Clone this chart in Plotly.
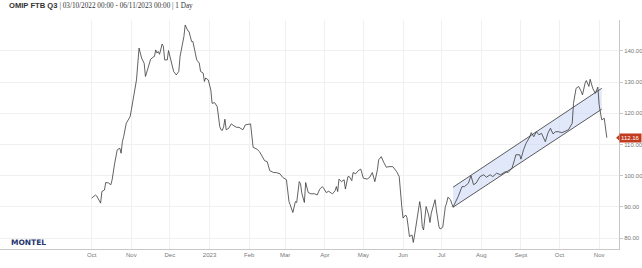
import pandas as pd
import plotly.graph_objects as go

start_date = "2022-10-01"
day_offsets = [0, 3, 4, 7, 8, 10, 11, 13, 15, 16, 18, 20, 22, 23, 24, 25, 27, 29, 30, 31,
               33, 35, 37, 39, 41, 42, 44, 46, 48, 49, 50, 51, 52, 53, 55, 56, 57, 59, 60, 62,
               64, 66, 68, 69, 72, 73, 75, 76, 78, 79, 81, 82, 84, 85, 87, 88, 89, 91, 93, 94,
               96, 98, 100, 101, 102, 103, 104, 105, 107, 109, 111, 113, 115, 118, 120, 122, 124, 126, 129, 131,
               133, 135, 137, 138, 139, 142, 144, 147, 149, 152, 153, 154, 155, 157, 159, 160, 162, 163, 164, 166,
               167, 169, 171, 174, 176, 178, 180, 181, 183, 185, 187, 188, 190, 191, 192, 193, 195, 197, 198, 200,
               201, 203, 204, 206, 208, 210, 212, 215, 217, 219, 221, 223, 224, 226,
               228, 229, 230, 232, 235, 238, 240, 242, 243, 245, 246, 247, 248, 250, 251, 252, 254, 256, 257, 258,
               259, 260, 261, 263, 264, 265, 267, 268, 269, 271, 272, 274, 276, 277, 278, 280, 282,
               286, 289, 291, 294, 296, 298, 300, 303, 306, 308, 311, 313, 316, 319, 323, 325, 328, 330, 331, 334,
               335, 337, 339, 342, 343, 345, 347, 349, 351, 354, 356, 358, 360, 362, 364, 367, 369, 372, 375, 376,
               378, 380, 382, 383, 385, 386, 388, 389, 391, 393, 395, 396, 398, 400, 402]
prices = [92.8, 93.8, 93.5, 91.2, 94.9, 95.4, 97.8, 97.7, 97.1, 98.7, 104, 108.3, 108.8, 107.2, 110.9, 112.5, 116.8, 118.4, 118.9, 121.1,
          126.4, 130.7, 140.9, 137.7, 136, 131.8, 134.5, 137.3, 138, 138.2, 140.3, 139.3, 139.8, 138.9, 142.2, 141.4, 137.1, 137.1, 140.1, 136.6,
          133.4, 132.3, 133.4, 138.2, 144.6, 148.3, 146.5, 146.2, 143, 143, 139.3, 137.1, 136.1, 133.4, 132.9, 130.2, 131.3, 130.7, 127.5, 123.2,
          123.4, 122.1, 115.7, 114.7, 114.5, 115.7, 118.1, 114.7, 115.2, 116.6, 116, 115.5, 115.5, 114.7, 116.3, 116.5, 116.6, 109.1, 108.5, 107.7,
          106.1, 104.8, 104.5, 102.9, 101.6, 101, 101, 100.6, 99.5, 98.7, 95.4, 91.7, 90.6, 88.2, 91.7, 91.4, 98.1, 97.4, 94.4, 91.4,
          97.8, 94.6, 94.2, 94.2, 93.8, 95.7, 96.5, 96, 94.6, 95, 94.4, 94.2, 95.2, 96.5, 94.9, 98.9, 98.1, 98.7, 95.7, 99.7,
          99.7, 98.4, 101, 100.6, 101.6, 102.1, 99.2, 98.9, 99.5, 101, 98.1, 101.9, 105.1, 106.1,
          104.2, 103.5, 102.7, 102.9, 102.9, 101.3, 99.7, 90.1, 86.4, 87.4, 86.7, 83.7, 80.5, 81, 78.6, 81, 85.8, 91.7, 89, 83.7,
          82.6, 87.4, 90.1, 87.4, 85, 88, 91.4, 92.3, 89, 83.7, 82.9, 83.5, 90.1, 91.2, 93.1, 92.3, 89.9,
          93.3, 96.5, 96.5, 97.6, 100, 97.1, 97.6, 99.7, 100.3, 99.5, 100.3, 99.7, 100.8, 100.3, 101.3, 101, 102.4, 105.1, 106.7, 106.7,
          105.3, 108.3, 110.4, 112.5, 113.8, 112.5, 114.1, 113.1, 113.6, 110.9, 113.6, 115.2, 113.4, 114.1, 114.1, 113.8, 114.1, 114.7, 116.8, 123.2,
          128, 128.6, 127, 125.9, 129.6, 130.5, 128.6, 130.9, 128, 126.4, 128.4, 122.7, 117.9, 118.4, 112.16]

# Trend channel (drawn annotation)
channel_days = [282, 398]
channel_lower = [89.9, 121.3]
channel_upper = [96.3, 128.0]

month_ticks = ["2022-10-01", "2022-11-01", "2022-12-01", "2023-01-01", "2023-02-01", "2023-03-01",
               "2023-04-01", "2023-05-01", "2023-06-01", "2023-07-01", "2023-08-01", "2023-09-01",
               "2023-10-01", "2023-11-01"]
month_labels = ["Oct", "Nov", "Dec", "2023", "Feb", "Mar", "Apr", "May", "Jun", "Jul", "Aug", "Sept", "Oct", "Nov"]
y_ticks = [80, 90, 100, 110, 120, 130, 140]
last_label = "112.16"

base = pd.Timestamp(start_date)
dates = base + pd.to_timedelta(day_offsets, unit="D")
ch_dates = base + pd.to_timedelta(channel_days, unit="D")

fig = go.Figure()
fig.add_trace(go.Scatter(x=ch_dates, y=channel_lower, mode="lines",
                         line=dict(color="#333333", width=0.8), hoverinfo="skip"))
fig.add_trace(go.Scatter(x=ch_dates, y=channel_upper, mode="lines", fill="tonexty",
                         fillcolor="rgba(200,214,245,0.55)",
                         line=dict(color="#333333", width=0.8), hoverinfo="skip"))
fig.add_trace(go.Scatter(x=dates, y=prices, mode="lines",
                         line=dict(color="#3a3a3a", width=0.8)))

fig.update_layout(
    width=642, height=268,
    margin=dict(l=0, r=23, t=20, b=19),
    paper_bgcolor="white", plot_bgcolor="white",
    showlegend=False,
    font=dict(family="Liberation Sans, Arial, sans-serif", size=6, color="#777777"),
)
fig.update_xaxes(
    range=["2022-07-21 12:00", "2023-11-16 12:00"],
    tickvals=month_ticks, ticktext=month_labels,
    showgrid=True, gridcolor="#f0f0f0", gridwidth=1,
    showline=True, linecolor="#c8c8c8", linewidth=1,
    ticks="", zeroline=False,
    tickfont=dict(size=6, color="#777777"),
)
fig.update_yaxes(
    side="right", range=[76.5, 149.9],
    tickvals=y_ticks, tickformat=".2f",
    showgrid=True, gridcolor="#f0f0f0", gridwidth=1,
    showline=True, linecolor="#c8c8c8", linewidth=1,
    ticks="outside", ticklen=3, tickcolor="#c8c8c8",
    zeroline=False,
    tickfont=dict(size=6, color="#777777"),
)

fig.add_annotation(
    xref="paper", yref="paper", x=0.012, y=1.062, xanchor="left", yanchor="middle",
    text="<b>OMIP FTB Q3</b> <span style='font-family:Liberation Serif;font-size:7.2px'>| 03/10/2022 00:00 - 06/11/2023 00:00 | 1 Day</span>",
    showarrow=False, font=dict(family="Liberation Sans, Arial, sans-serif", size=7.6, color="#333333"),
)
fig.add_annotation(
    xref="paper", yref="paper", x=0.015, y=0.028, xanchor="left", yanchor="middle",
    text="<b>MONTEL</b>", showarrow=False,
    font=dict(family="DejaVu Sans", size=7.5, color="#1f3670"),
)
tag_color = "#c23b1e"
fig.add_annotation(
    xref="paper", yref="y", x=1.0, y=prices[-1], xanchor="left", yanchor="middle", xshift=0,
    text=last_label, showarrow=False, bgcolor=tag_color, borderpad=1,
    font=dict(family="Liberation Sans, Arial, sans-serif", size=6, color="white"),
)
# small pointer on the left of the price tag
fig.add_shape(
    type="path", xref="paper", yref="y",
    path=f"M 0.9952 {prices[-1]} L 1.0002 {prices[-1] + 0.85} L 1.0002 {prices[-1] - 0.85} Z",
    fillcolor=tag_color, line=dict(width=0), layer="above",
)

fig.write_html("out.html")
